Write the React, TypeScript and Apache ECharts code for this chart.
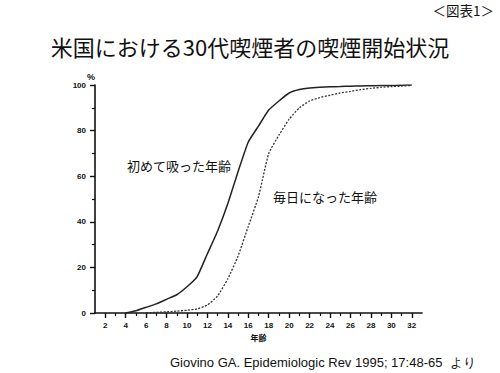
import React, { useEffect, useRef } from "react";
import * as echarts from "echarts";

const ages = [4, 5, 6, 7, 8, 9, 10, 11, 12, 13, 14, 15, 16, 17, 18, 19, 20, 21, 22, 23, 24, 25, 26, 27, 28, 29, 30, 31, 32];
const firstTried = [0, 1, 2.5, 4, 6, 8, 11.5, 16, 26, 36, 48, 62, 75, 82, 89, 93, 96.5, 98, 98.7, 99, 99.2, 99.3, 99.5, 99.6, 99.7, 99.8, 99.8, 99.9, 100];
const dailyAges = [6, 7, 8, 9, 10, 11, 12, 13, 14, 15, 16, 17, 18, 19, 20, 21, 22, 23, 24, 25, 26, 27, 28, 29, 30, 31, 32];
const becameDaily = [0, 0.3, 0.5, 0.8, 1.2, 1.8, 3.5, 7.5, 15, 25, 38, 51, 70, 78, 85, 90, 93, 94.5, 95.5, 96.5, 97.2, 98, 98.5, 99, 99.3, 99.5, 99.8];
const majorTicks = [2, 4, 6, 8, 10, 12, 14, 16, 18, 20, 22, 24, 26, 28, 30, 32];
const minorTicks = [3, 5, 7, 9, 11, 13, 15, 17, 19, 21, 23, 25, 27, 29, 31];

const title = "米国における30代喫煙者の喫煙開始状況";
const figLabel = "＜図表1＞";
const label1 = "初めて吸った年齢";
const label2 = "毎日になった年齢";
const source = "Giovino GA. Epidemiologic Rev 1995; 17:48-65  より";

export default function App() {
  const ref = useRef<HTMLDivElement>(null);
  useEffect(() => {
    if (!ref.current) return;
    const chart = echarts.init(ref.current, null, { renderer: "svg" });
    const tickFont = { fontFamily: "Liberation Sans", fontSize: 8, fontWeight: "bold" as const, color: "#111" };
    const baseX = {
      type: "value" as const,
      min: 1,
      max: 33,
      splitLine: { show: false },
    };
    chart.setOption({
      animation: false,
      backgroundColor: "#fff",
      grid: { left: 95, right: 78, top: 85, bottom: 60 },
      xAxis: [
        {
          ...baseX,
          name: "年齢",
          nameLocation: "middle",
          nameGap: 18,
          nameTextStyle: { fontFamily: "Noto Sans CJK JP", fontSize: 8, fontWeight: "bold", color: "#111" },
          axisLine: { show: true, lineStyle: { color: "#111", width: 1.6 } },
          axisTick: { show: true, customValues: majorTicks, length: 5, lineStyle: { color: "#111", width: 1.4 } },
          axisLabel: { show: true, customValues: majorTicks, margin: 8, ...tickFont },
        },
        {
          ...baseX,
          position: "bottom",
          axisLine: { show: false },
          axisTick: { show: true, customValues: minorTicks, length: 3, lineStyle: { color: "#111", width: 1.2 } },
          axisLabel: { show: false },
        },
      ],
      yAxis: {
        type: "value",
        min: 0,
        max: 100,
        interval: 20,
        name: "%",
        nameGap: 4,
        nameTextStyle: { fontFamily: "Liberation Sans", fontSize: 9, fontWeight: "bold", color: "#111", padding: [0, 8, 0, 0] },
        axisLine: { show: true, lineStyle: { color: "#111", width: 1.6 } },
        axisTick: { show: true, length: 5, lineStyle: { color: "#111", width: 1.4 } },
        minorTick: { show: true, splitNumber: 2, length: 3, lineStyle: { color: "#111", width: 1.2 } },
        splitLine: { show: false },
        axisLabel: { margin: 9, ...tickFont },
      },
      series: [
        {
          type: "line",
          data: ages.map((a, i) => [a, firstTried[i]]),
          showSymbol: false,
          smooth: 0.15,
          lineStyle: { color: "#222", width: 1.5 },
        },
        {
          type: "line",
          data: dailyAges.map((a, i) => [a, becameDaily[i]]),
          showSymbol: false,
          smooth: 0.15,
          lineStyle: { color: "#333", width: 1.3, type: [2, 1.5] },
        },
      ],
      graphic: [
        {
          type: "text",
          left: "center",
          top: 35,
          style: { text: title, fontFamily: "Noto Sans CJK JP", fontSize: 22, fill: "#111" },
        },
        {
          type: "text",
          right: 6,
          top: 3,
          style: { text: figLabel, fontFamily: "Noto Sans CJK JP", fontSize: 13.5, fill: "#111" },
        },
        {
          type: "text",
          x: 127,
          y: 165,
          style: { text: label1, fontFamily: "Noto Sans CJK JP", fontSize: 13, fill: "#111", verticalAlign: "middle" },
        },
        {
          type: "text",
          x: 273,
          y: 196,
          style: { text: label2, fontFamily: "Noto Sans CJK JP", fontSize: 13, fill: "#111", verticalAlign: "middle" },
        },
        {
          type: "text",
          x: 170,
          y: 362,
          style: { text: source, fontFamily: "Liberation Sans", fontSize: 13, fill: "#111", verticalAlign: "middle" },
        },
      ],
    });
    return () => chart.dispose();
  }, []);
  return <div ref={ref} style={{ position: "fixed", left: 0, top: 0, width: 500, height: 373, background: "#fff" }} />;
}
